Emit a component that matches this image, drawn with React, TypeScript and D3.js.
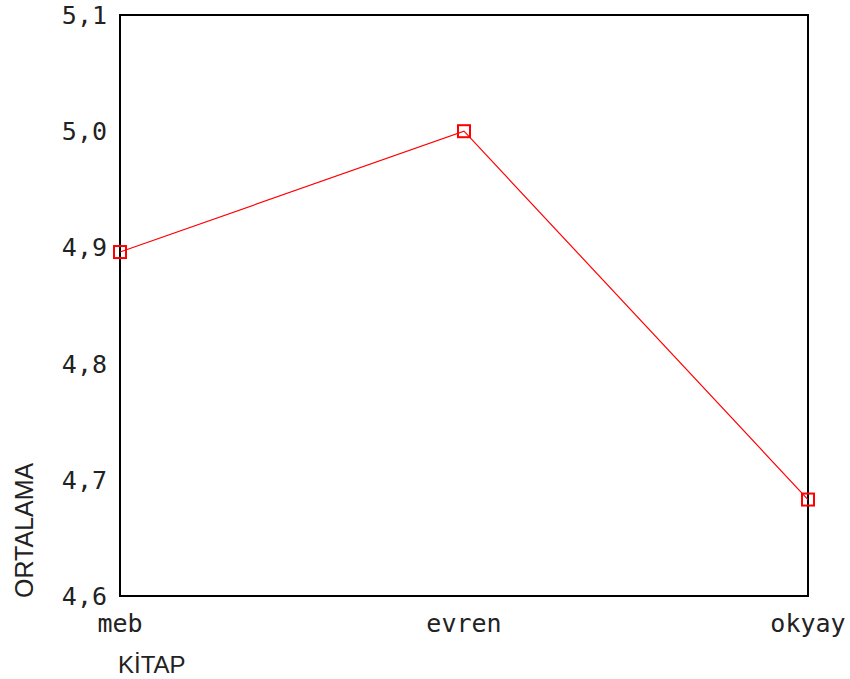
import React from "react";
import * as d3 from "d3";

const categories = ["meb", "evren", "okyay"];
const values = [4.896, 5.0, 4.683];
const yTicks = [4.6, 4.7, 4.8, 4.9, 5.0, 5.1];
const xTitle = "KİTAP";
const yTitle = "ORTALAMA";

export default function App() {
  const W = 850, H = 679;
  const left = 120, right = 808, top = 15, bottom = 596;
  const x = d3.scalePoint<string>().domain(categories).range([left, right]);
  const y = d3.scaleLinear().domain([4.6, 5.1]).range([bottom, top]);
  const line = d3.line<number>().x((_, i) => x(categories[i])!).y((d) => y(d));
  const fmt = (v: number) => v.toFixed(1).replace(".", ",");
  const mono = "'DejaVu Sans Mono', monospace";
  const sans = "'Liberation Sans', Arial, sans-serif";
  return (
    <svg width={W} height={H} style={{ position: "absolute", left: 0, top: 0, background: "#fff" }}>
      <rect x={left} y={top} width={right - left} height={bottom - top} fill="none" stroke="#000" strokeWidth={2} />
      {yTicks.map((t) => (
        <text key={t} x={107} y={y(t)} dy="0.36em" textAnchor="end" fontFamily={mono} fontSize={25} fill="#222">
          {fmt(t)}
        </text>
      ))}
      {categories.map((c) => (
        <text key={c} x={x(c)!} y={632} textAnchor="middle" fontFamily={mono} fontSize={25} fill="#222">
          {c}
        </text>
      ))}
      <path d={line(values)!} fill="none" stroke="#ff0000" strokeWidth={1.2} />
      {values.map((v, i) => (
        <rect key={i} x={x(categories[i])! - 6} y={y(v) - 6} width={12} height={12} fill="none" stroke="#ff0000" strokeWidth={2} />
      ))}
      <text x={118} y={673} fontFamily={sans} fontSize={24} fill="#222">{xTitle}</text>
      <text transform={`translate(33,598) rotate(-90)`} fontFamily={sans} fontSize={25} fill="#222">{yTitle}</text>
    </svg>
  );
}
